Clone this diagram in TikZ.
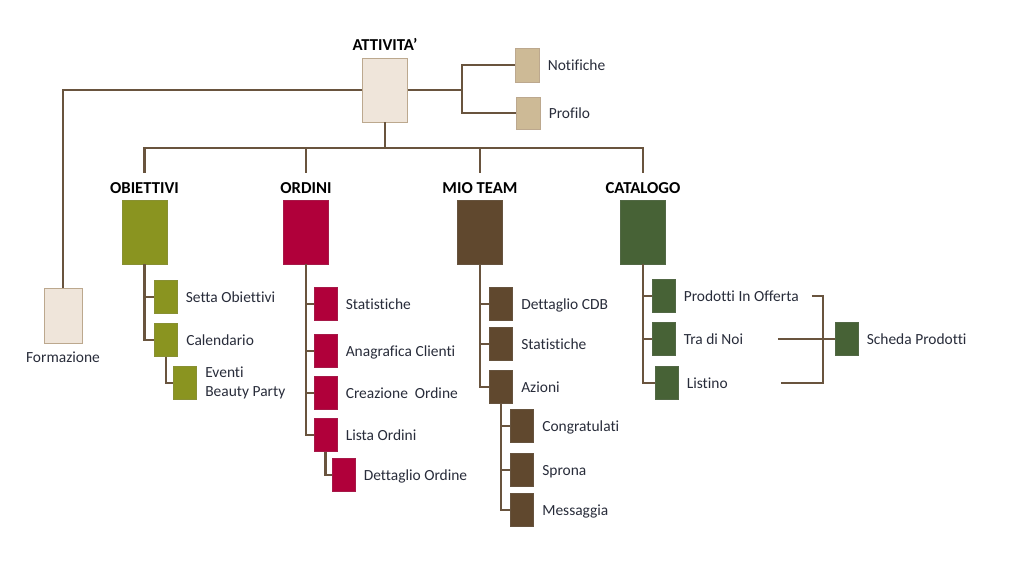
\documentclass[tikz,border=0pt]{standalone}
\usepackage{fontspec}
\setmainfont{Carlito}[Ligatures=NoCommon]
\definecolor{linebrown}{RGB}{105,84,62}
\definecolor{txtcol}{RGB}{40,44,58}
\definecolor{topfill}{RGB}{239,229,218}
\definecolor{topdraw}{RGB}{188,168,142}
\definecolor{tanfill}{RGB}{205,186,150}
\definecolor{obcol}{RGB}{138,148,32}
\definecolor{ordcol}{RGB}{176,0,58}
\definecolor{teamcol}{RGB}{96,72,46}
\definecolor{catcol}{RGB}{71,98,54}

\begin{document}
\begin{tikzpicture}[scale=0.2,
    box/.style={fill=#1, draw=#1!80!gray, line width=0.5pt, minimum width=0.46cm, minimum height=0.66cm},
    bigbox/.style={box=#1, minimum width=0.9cm, minimum height=1.28cm},
    head/.style={font=\bfseries\fontsize{9.5}{11}\selectfont, text=black},
    lbl/.style={font=\fontsize{8.8}{10.8}\selectfont, text=txtcol, text height=0.62em, text depth=0pt},
    wire/.style={draw=linebrown, line width=1.6pt},
    label distance=0.16cm]
    \tikzstyle{every node}+=[inner sep=0pt]
    \useasboundingbox (0,0) rectangle (102.4,-57.6);

    \node[bigbox=topfill, draw=topdraw] (attivita) at (38.5,-9.0) {};
    \node[head] (attivita-t) at (38.5,-4.4) {ATTIVITA’};
    \node[box=topfill, draw=topdraw, minimum width=0.76cm, minimum height=1.1cm,
        label={[lbl]below:Formazione}] (formazione) at (6.3,-31.55) {};
    \node[box=tanfill, draw=topdraw, minimum width=0.48cm, minimum height=0.68cm,
        label={[lbl]right:Notifiche}] (notifiche) at (52.7,-6.5) {};
    \node[box=tanfill, draw=topdraw, minimum width=0.48cm, minimum height=0.64cm,
        label={[lbl]right:Profilo}] (profilo) at (52.8,-11.3) {};

    \node[bigbox=obcol] (obiettivi) at (14.45,-23.2) {};
    \node[head] (obiettivi-t) at (14.45,-18.8) {OBIETTIVI};
    \node[bigbox=ordcol] (ordini) at (30.6,-23.2) {};
    \node[head] (ordini-t) at (30.6,-18.8) {ORDINI};
    \node[bigbox=teamcol] (team) at (48.0,-23.2) {};
    \node[head] (team-t) at (48.0,-18.8) {MIO TEAM};
    \node[bigbox=catcol] (catalogo) at (64.3,-23.2) {};
    \node[head] (catalogo-t) at (64.3,-18.8) {CATALOGO};

    \node[box=obcol, label={[lbl]right:Setta Obiettivi}] (setta) at (16.55,-29.7) {};
    \node[box=obcol, label={[lbl]right:Calendario}] (calendario) at (16.6,-34.0) {};
    \node[box=obcol, label={[lbl,align=left,text height=,text depth=]right:Eventi\\Beauty Party}] (eventi) at (18.5,-38.3) {};

    \node[box=ordcol, label={[lbl]right:Statistiche}] (ord-stat) at (32.55,-30.4) {};
    \node[box=ordcol, label={[lbl]right:Anagrafica Clienti}] (anagrafica) at (32.55,-35.1) {};
    \node[box=ordcol, label={[lbl]right:Creazione\ \ Ordine}] (creazione) at (32.55,-39.3) {};
    \node[box=ordcol, label={[lbl]right:Lista Ordini}] (lista) at (32.55,-43.5) {};
    \node[box=ordcol, label={[lbl]right:Dettaglio Ordine}] (dettaglio) at (34.35,-47.5) {};

    \node[box=teamcol, label={[lbl]right:Dettaglio CDB}] (cdb) at (50.1,-30.4) {};
    \node[box=teamcol, label={[lbl]right:Statistiche}] (team-stat) at (50.1,-34.4) {};
    \node[box=teamcol, label={[lbl]right:Azioni}] (azioni) at (50.1,-38.7) {};
    \node[box=teamcol, label={[lbl]right:Congratulati}] (congratulati) at (52.2,-42.6) {};
    \node[box=teamcol, label={[lbl]right:Sprona}] (sprona) at (52.2,-47.0) {};
    \node[box=teamcol, label={[lbl]right:Messaggia}] (messaggia) at (52.2,-51.0) {};

    \node[box=catcol, label={[lbl]right:Prodotti In Offerta}] (offerta) at (66.35,-29.6) {};
    \node[box=catcol, label={[lbl]right:Tra di Noi}] (tradinoi) at (66.35,-33.9) {};
    \node[box=catcol, label={[lbl]right:Listino}] (listino) at (66.65,-38.3) {};
    \node[box=catcol, label={[lbl]right:Scheda Prodotti}] (scheda) at (84.65,-33.9) {};

    \coordinate (bus) at (38.5,-14.8);
    \coordinate (fork) at (46.2,-9.0);
    \coordinate (offr) at (81.2,-29.6);
    \coordinate (noir) at (77.8,-33.9);
    \coordinate (listr) at (78.1,-38.3);
    \coordinate (brk) at (82.3,-33.9);

    \draw[wire] (attivita.south) -- (bus);
    \foreach \t in {obiettivi-t,ordini-t,team-t,catalogo-t}
        \draw[wire, shorten >=0.18cm] (bus) -| (\t.north);
    \draw[wire] (attivita.west) -| (formazione.north);
    \draw[wire] (attivita.east) -- (fork) |- (notifiche.west);
    \draw[wire] (fork) |- (profilo.west);

    \foreach \c in {setta,calendario}
        \draw[wire] (obiettivi.south) |- (\c.west);
    \draw[wire] (calendario.south) |- (eventi.west);
    \foreach \c in {ord-stat,anagrafica,creazione,lista}
        \draw[wire] (ordini.south) |- (\c.west);
    \draw[wire] (lista.south) |- (dettaglio.west);
    \foreach \c in {cdb,team-stat,azioni}
        \draw[wire] (team.south) |- (\c.west);
    \foreach \c in {congratulati,sprona,messaggia}
        \draw[wire] (azioni.south) |- (\c.west);
    \foreach \c in {offerta,tradinoi,listino}
        \draw[wire] (catalogo.south) |- (\c.west);

    \draw[wire] (offr) -| (brk) |- (listr);
    \draw[wire] (noir) -- (scheda.west);
\end{tikzpicture}
\end{document}
